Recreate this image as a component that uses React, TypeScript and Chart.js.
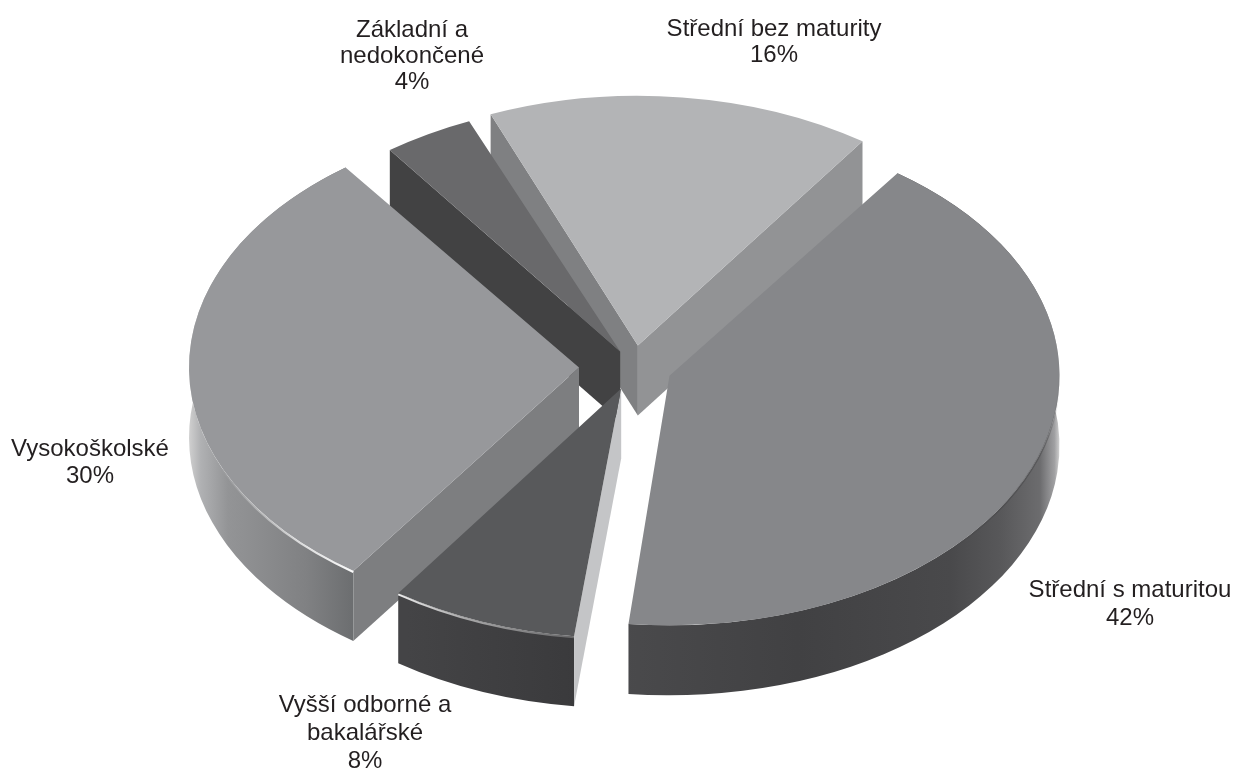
import React, { useEffect, useRef } from "react";
import { Chart, registerables } from "chart.js";

Chart.register(...registerables);

// Data, clockwise from the start angle
const categories = [
  ["Střední s maturitou"],
  ["Vyšší odborné a", "bakalářské"],
  ["Vysokoškolské"],
  ["Základní a", "nedokončené"],
  ["Střední bez maturity"],
];
const shares = [42, 8, 30, 4, 16];

// Styling
const topColors = ["#86878a", "#58595b", "#97989b", "#69696b", "#b3b4b6"];
const explode = [38, 36, 55, 28, 34];
const startWallColors = [null, "#c4c5c7", "#7d7e80", "#424243", "#7f8082"];
const endWallColors = [null, null, null, null, "#929395"];
type Stop = [number, string];
const rimStops: (Stop[] | null)[] = [
  [[-0.13, "#4a4a4c"], [0.33, "#414143"], [0.72, "#49494b"], [0.85, "#58585a"], [0.95, "#6c6c6e"], [0.987, "#a0a0a2"], [1, "#d0d0d0"]],
  [[-0.55, "#444446"], [-0.1, "#3a3a3c"]],
  [[-1, "#d0d0d0"], [-0.97, "#b0b1b3"], [-0.9, "#939496"], [-0.7, "#808183"], [-0.567, "#6a6c6e"]],
  null,
  null,
];
const glintStops: (Stop[] | null)[] = [
  [[0.7, "rgba(60,60,62,0)"], [0.9, "rgba(60,60,62,0.4)"], [0.97, "rgba(60,60,62,0.4)"], [1, "rgba(60,60,62,0)"]],
  [[-0.6, "rgba(255,255,255,0.95)"], [-0.4, "rgba(255,255,255,0.55)"], [-0.1, "rgba(255,255,255,0.2)"]],
  [[-0.92, "rgba(255,255,255,0)"], [-0.72, "rgba(255,255,255,0.7)"], [-0.57, "rgba(255,255,255,1)"]],
  null,
  null,
];
const backToFront = [4, 3, 2, 0, 1];

const labelAnchors: [number, number][] = [
  [1130, 590],
  [365, 705],
  [90, 449],
  [412, 30],
  [774, 29],
];
const labelLeading = [28, 28, 27, 26, 26];
const START_DEG = 35.3;
const RADIUS = 390;
const SQUASH = 0.64;
const DEPTH = 70;
const CENTER_Y = 367;
const W = 1235;
const H = 769;

// Chart.js moves an arc by offset/4 and grows its radius by offset/4 * fix.
const spanOf = (i: number) => (shares[i] / 100) * Math.PI * 2;
const growth = (i: number) => explode[i] * (1 - Math.sin(Math.min(Math.PI, spanOf(i))));
const arcOffsets = explode.map((d) => d * 4);
const trim = (i: number) => growth(i) / Math.PI / RADIUS / 2;

function makeGradient(ctx: CanvasRenderingContext2D, ax: number, stops: Stop[]) {
  const g = ctx.createLinearGradient(ax - RADIUS, 0, ax + RADIUS, 0);
  stops.forEach(([u, c]) => g.addColorStop((u + 1) / 2, c));
  return g;
}

function geometry(arc: any, i: number) {
  const mid = (arc.startAngle + arc.endAngle) / 2;
  const ax = arc.x + explode[i] * Math.cos(mid);
  const ay = CENTER_Y + SQUASH * explode[i] * Math.sin(mid);
  const at = (a: number) => [ax + RADIUS * Math.cos(a), ay + SQUASH * RADIUS * Math.sin(a)];
  return { ax, ay, at, start: arc.startAngle + trim(i), end: arc.endAngle - trim(i) };
}

const pie3d = {
  id: "pie3d",
  beforeDatasetsDraw(chart: any) {
    const ctx: CanvasRenderingContext2D = chart.ctx;
    const arcs = chart.getDatasetMeta(0).data;
    arcs.forEach((arc: any, i: number) => {
      arc.outerRadius = RADIUS - growth(i);
    });
    const wall = (g: any, a: number, color: string) => {
      const [px, py] = g.at(a);
      ctx.fillStyle = color;
      ctx.beginPath();
      ctx.moveTo(g.ax, g.ay);
      ctx.lineTo(px, py);
      ctx.lineTo(px, py + DEPTH);
      ctx.lineTo(g.ax, g.ay + DEPTH);
      ctx.closePath();
      ctx.fill();
    };
    backToFront.forEach((i) => {
      const g = geometry(arcs[i], i);
      const stops = rimStops[i];
      if (stops) {
        ctx.fillStyle = makeGradient(ctx, g.ax, stops);
        ctx.beginPath();
        ctx.ellipse(g.ax, g.ay, RADIUS, RADIUS * SQUASH, 0, g.start, g.end);
        ctx.ellipse(g.ax, g.ay + DEPTH, RADIUS, RADIUS * SQUASH, 0, g.end, g.start, true);
        ctx.closePath();
        ctx.fill();
      }
      const sw = startWallColors[i];
      if (sw) wall(g, g.start, sw);
      const ew = endWallColors[i];
      if (ew) wall(g, g.end, ew);
    });
    ctx.save();
    ctx.translate(0, CENTER_Y);
    ctx.scale(1, SQUASH);
    ctx.translate(0, -arcs[0].y);
  },
  afterDatasetsDraw(chart: any) {
    const ctx: CanvasRenderingContext2D = chart.ctx;
    ctx.restore();
    const arcs = chart.getDatasetMeta(0).data;
    arcs.forEach((arc: any, i: number) => {
      const stops = glintStops[i];
      if (!stops) return;
      const g = geometry(arc, i);
      const from = Math.max(g.start, 0);
      const to = Math.min(g.end, Math.PI);
      ctx.strokeStyle = makeGradient(ctx, g.ax, stops);
      ctx.lineWidth = 2;
      ctx.beginPath();
      ctx.ellipse(g.ax, g.ay + 1, RADIUS, RADIUS * SQUASH, 0, from, to);
      ctx.stroke();
    });
    ctx.fillStyle = "#231f20";
    ctx.font = '24px "Liberation Sans"';
    ctx.textAlign = "center";
    ctx.textBaseline = "middle";
    categories.forEach((lines, i) => {
      const [x, y] = labelAnchors[i];
      [...lines, `${shares[i]}%`].forEach((t, j) => ctx.fillText(t, x, y + j * labelLeading[i]));
    });
  },
};

export default function App() {
  const ref = useRef<HTMLCanvasElement>(null);
  useEffect(() => {
    const chart = new Chart(ref.current!, {
      type: "pie",
      data: {
        labels: categories.map((c) => c.join(" ")),
        datasets: [
          {
            data: shares,
            backgroundColor: topColors,
            borderWidth: 0,
            offset: arcOffsets,
            clip: false,
          } as any,
        ],
      },
      options: {
        animation: false,
        responsive: false,
        rotation: START_DEG,
        radius: RADIUS,
        layout: { padding: { left: 33 } },
        plugins: { legend: { display: false }, tooltip: { enabled: false } },
      } as any,
      plugins: [pie3d],
    });
    return () => chart.destroy();
  }, []);
  return (
    <div style={{ position: "absolute", left: 0, top: 0, width: W, height: H, background: "#fff" }}>
      <canvas ref={ref} width={W} height={H} style={{ display: "block" }} />
    </div>
  );
}
